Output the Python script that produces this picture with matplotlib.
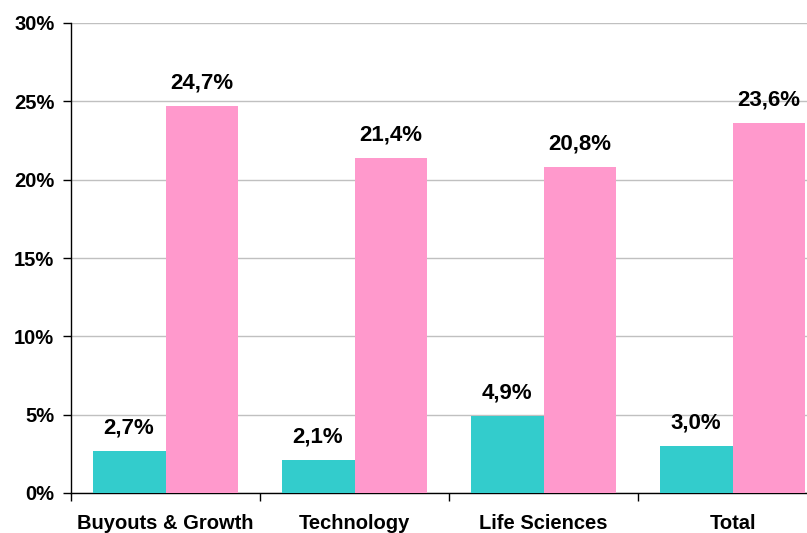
import numpy as np
import matplotlib
matplotlib.use('Agg')
import matplotlib.pyplot as plt

plt.rcParams['font.family'] = ['Liberation Sans', 'DejaVu Sans']

categories = ['Buyouts & Growth', 'Technology', 'Life Sciences', 'Total']
teal_values = [2.7, 2.1, 4.9, 3.0]
pink_values = [24.7, 21.4, 20.8, 23.6]
y_ticks = [0, 5, 10, 15, 20, 25, 30]

fig = plt.figure(figsize=(8.07, 5.33), dpi=100)
ax = fig.add_axes([71 / 807, 40 / 533, 756 / 807, 470 / 533])

x = np.arange(len(categories))
w = 0.386
bars_t = ax.bar(x - w / 2, teal_values, w, color='#33CCCC', zorder=3)
bars_p = ax.bar(x + w / 2, pink_values, w, color='#FF99CC', zorder=3)

for bars, vals in ((bars_t, teal_values), (bars_p, pink_values)):
    for b, v in zip(bars, vals):
        ax.annotate(f"{v:.1f}%".replace('.', ','),
                    (b.get_x() + b.get_width() / 2, v),
                    xytext=(0, 9), textcoords='offset points',
                    ha='center', va='bottom', fontsize=16, fontweight='bold')

ax.set_xlim(-0.5, len(categories) - 0.5)
ax.set_ylim(0, 30)
ax.set_yticks(y_ticks)
ax.set_yticklabels([f"{t}%" for t in y_ticks], fontsize=14.5, fontweight='bold')
ax.set_xticks(x)
ax.set_xticklabels(categories, fontsize=14.5, fontweight='bold')
ax.set_xticks(np.arange(len(categories) + 1) - 0.5, minor=True)
ax.tick_params(axis='x', which='major', length=0, pad=15)
ax.tick_params(axis='x', which='minor', length=6, width=1, direction='out')
ax.tick_params(axis='y', length=6, width=1, direction='out', pad=6)

ax.yaxis.grid(True, color='#C0C0C0', linewidth=1, zorder=0)
ax.set_axisbelow(True)
for s in ('top', 'right'):
    ax.spines[s].set_visible(False)
ax.spines['left'].set_linewidth(1)
ax.spines['bottom'].set_linewidth(1)

fig.savefig('out.png', dpi=100)
